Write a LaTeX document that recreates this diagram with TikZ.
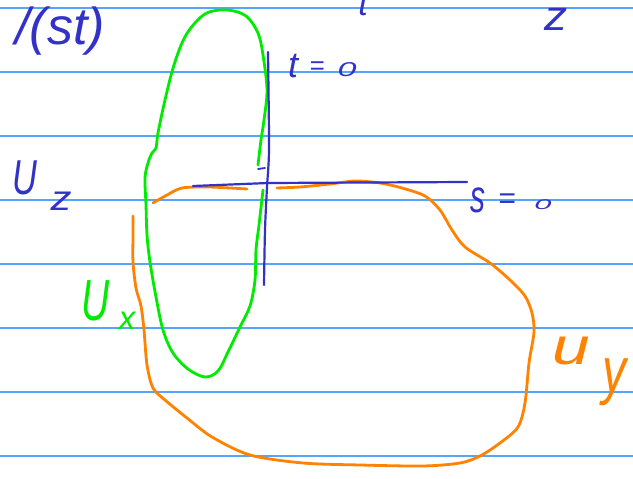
\documentclass[tikz,border=0pt]{standalone}
\usepackage{fontspec}
\usepackage{graphicx}
\setmainfont{Liberation Sans}
\definecolor{rulecol}{RGB}{85,165,250}
\definecolor{inkblue}{RGB}{50,50,200}
\definecolor{inkgreen}{RGB}{0,235,0}
\definecolor{inkorange}{RGB}{255,130,0}
\newcommand\hsz[1]{\fontsize{#1}{#1}\selectfont\itshape}
\tikzset{
  ruleline/.style={draw=rulecol,line width=1.6pt},
  pen/.style={line width=#1,line cap=round,line join=round},
  hand/.style={inner sep=0pt,outer sep=0pt},
}
\begin{document}
\begin{tikzpicture}[x=1pt,y=-1pt]
\useasboundingbox[fill=white] (0,0) rectangle (633,479);
% ruled paper
\foreach \yy in {8,72,136,200,264,328,392,456}
  \draw[ruleline] (0,\yy) -- (633,\yy);

% green blob (U_x)
\draw[pen=2.8pt,inkgreen] plot[smooth,tension=0.55] coordinates {
 (258,165) (261,140) (264,120) (267,90) (263,55) (258,33) (246,16) (227,10)
 (205,14) (186,35) (174,65) (165,100) (158,133) (156,148) (152,153) (148,163)
 (145,178) (146,205) (147,235) (150,262) (156,297) (163,330) (173,353)
 (188,369) (205,377) (218,371) (228,352) (240,327) (250,306) (255,280)
 (256,250) (259,225) (263,190)};

% orange blob (u_y)
\draw[pen=2.8pt,inkorange] plot[smooth,tension=0.5] coordinates {
 (153,203) (167,195) (182,188) (207,187) (230,188) (247,189)};
\draw[pen=2.8pt,inkorange] plot[smooth,tension=0.5] coordinates {
 (277,188) (300,187) (330,184) (355,181) (380,183) (402,188) (425,196)
 (440,210) (452,230) (465,247) (490,263) (510,280) (525,296) (532,313)
 (534,332) (529,363) (525,403) (518,427) (500,443) (480,456) (460,463)
 (423,466) (360,465) (303,463) (250,455) (212,437) (187,418) (165,400)
 (153,388) (147,365) (144,330) (141,306) (136,288) (133,262) (133,235)
 (133,216)};

% blue axes
\draw[pen=2.2pt,inkblue] plot[smooth,tension=0.5] coordinates {
 (268,52) (269,148) (267,187) (265,230) (264,285)};
\draw[pen=2.2pt,inkblue] (193,186) -- (268,183) -- (467,182);
\draw[pen=1.8pt,inkblue] (258,169) -- (265,168);

% texts
\node[hand,inkblue] (ftop) at (60,31) {\hsz{52}/(st)};
\node[hand,inkblue,anchor=base] (ttop) at (363,16) {\hsz{34}t};
\node[hand,inkblue] (ztop) at (556,19) {\hsz{42}\scalebox{1.1}[1]{z}};

\node[hand,inkblue] (t0t) at (293,66) {\hsz{36}t};
\node[hand,inkblue] (t0eq) at (317,68) {\hsz{26}=};
\node[hand,inkblue] (t0z) at (347,70) {\hsz{20}\scalebox{1.7}[1]{0}};

\node[hand,inkblue] (s0s) at (478,200) {\hsz{46}\scalebox{0.65}[1]{s}};
\node[hand,inkblue] (s0eq) at (507,201) {\hsz{30}=};
\node[hand,inkblue] (s0z) at (543,205) {\hsz{14}\scalebox{2.2}[1]{0}};

\node[hand,inkblue] (uzU) at (25,178) {\hsz{49}\scalebox{0.7}[1]{U}};
\node[hand,inkblue] (uzz) at (61,201) {\hsz{35}\scalebox{1.2}[1]{z}};

\node[hand,inkgreen] (uxU) at (96,301) {\hsz{58}\scalebox{0.67}[1]{U}};
\node[hand,inkgreen] (uxx) at (127,321) {\hsz{33}x};

\node[hand,inkorange] (uyu) at (571,351) {\hsz{52}\scalebox{1.3}[1]{u}};
\node[hand,inkorange] (uyy) at (614,382) {\hsz{40}\scalebox{1.2}[1.6]{y}};
\end{tikzpicture}
\end{document}
